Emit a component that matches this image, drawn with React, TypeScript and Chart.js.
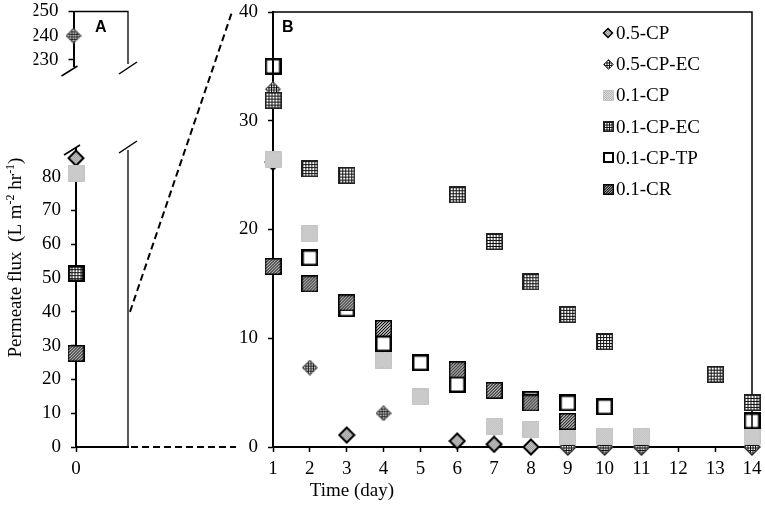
import React, { useEffect, useRef } from 'react';
import Chart from 'chart.js/auto';

const W = 765;
const H = 507;
const serif = "'Times New Roman', 'Liberation Serif', serif";
const sans = "Arial, 'Liberation Sans', sans-serif";

// series, in legend order (later series are drawn on top)
const seriesNames = ['0.5-CP', '0.5-CP-EC', '0.1-CP', '0.1-CP-EC', '0.1-CP-TP', '0.1-CR'];
const markerKinds = ['diamondGray', 'diamondCross', 'squareDots', 'squareGrid', 'squareOpen', 'squareDiag'];

// panel A: initial flux (day 0)
const initialFlux = [85.5, 240, 81, 51.3, 51.3, 27.7];
const lowerTicks = [0, 10, 20, 30, 40, 50, 60, 70, 80];
const upperTicks = [230, 240, 250];

// panel B: flux over days 1-14
const days = [1, 2, 3, 4, 5, 6, 7, 8, 9, 10, 11, 12, 13, 14];
const cp05 = [26.2, null, 1.1, null, null, 0.55, 0.25, 0, 0, 0, 0, null, null, 0];
const cp05ec = [32.9, 7.3, null, 3.1, null, null, null, null, 0, 0, 0, null, null, 0];
const cp01 = [26.4, 19.6, null, 8.0, 4.6, null, 1.9, 1.6, 1.0, 1.0, 1.0, null, null, 1.0];
const cp01ec = [31.9, 25.6, 25.0, null, null, 23.2, 18.9, 15.2, 12.2, 9.7, null, null, 6.7, 4.1];
const cp01tp = [35.0, 17.4, 12.7, 9.5, 7.75, 5.75, null, 4.4, 4.05, 3.7, null, null, null, 2.4];
const cr01 = [16.6, 15.0, 13.25, 10.9, null, 7.1, 5.2, 4.05, 2.35, null, null, null, null, null];
const seriesB = [cp05, cp05ec, cp01, cp01ec, cp01tp, cr01];
const dayTicks = days;
const fluxTicks = [0, 10, 20, 30, 40];

function makeMarker(kind: string, size: number): HTMLCanvasElement {
  const c = document.createElement('canvas');
  c.width = size;
  c.height = size;
  const g = c.getContext('2d')!;
  const h = size / 2;
  const diamond = (inset: number) => {
    g.beginPath();
    g.moveTo(h, inset);
    g.lineTo(size - inset, h);
    g.lineTo(h, size - inset);
    g.lineTo(inset, h);
    g.closePath();
  };
  const square = (inset: number) => {
    g.beginPath();
    g.rect(inset, inset, size - 2 * inset, size - 2 * inset);
  };
  const dots = (c1: string, c2: string) => {
    for (let y = 0; y < size; y++) {
      for (let x = 0; x < size; x++) {
        g.fillStyle = (x + y) % 2 ? c1 : c2;
        g.fillRect(x, y, 1, 1);
      }
    }
  };
  const grid = (step: number, color: string) => {
    g.strokeStyle = color;
    g.lineWidth = 1;
    g.beginPath();
    for (let p = 1.5; p < size; p += step) {
      g.moveTo(p, 0);
      g.lineTo(p, size);
      g.moveTo(0, p);
      g.lineTo(size, p);
    }
    g.stroke();
  };
  const big = size > 13;

  if (kind === 'diamondGray') {
    diamond(1.5);
    g.save();
    g.clip();
    dots('#9a9a9a', '#c6c6c6');
    g.restore();
    diamond(1.5);
    g.strokeStyle = '#000';
    g.lineWidth = big ? 2 : 1.5;
    g.stroke();
  } else if (kind === 'diamondCross') {
    diamond(0.5);
    g.save();
    g.clip();
    g.fillStyle = '#fff';
    g.fillRect(0, 0, size, size);
    grid(2.5, '#111');
    g.restore();
    diamond(0.5);
    g.strokeStyle = '#444';
    g.lineWidth = 1;
    g.stroke();
  } else if (kind === 'squareDots') {
    square(0.5);
    g.save();
    g.clip();
    dots('#b8b8b8', '#dcdcdc');
    g.restore();
    square(0.5);
    g.strokeStyle = '#c4c4c4';
    g.lineWidth = 1;
    g.stroke();
  } else if (kind === 'squareGrid') {
    g.fillStyle = '#fff';
    g.fillRect(0, 0, size, size);
    grid(big ? 3 : 2.5, '#111');
    square(0.75);
    g.strokeStyle = '#222';
    g.lineWidth = 1.5;
    g.stroke();
  } else if (kind === 'squareOpen') {
    square(big ? 1.25 : 1);
    g.strokeStyle = '#000';
    g.lineWidth = big ? 2.5 : 2;
    g.stroke();
  } else if (kind === 'squareDiag') {
    g.fillStyle = '#fff';
    g.fillRect(0, 0, size, size);
    g.strokeStyle = '#000';
    g.lineWidth = 1.1;
    g.beginPath();
    for (let k = -size; k < size * 2; k += big ? 3 : 2.5) {
      g.moveTo(k, size);
      g.lineTo(k + size, 0);
    }
    g.stroke();
    square(0.75);
    g.lineWidth = 1.5;
    g.stroke();
  }
  return c;
}

const bigSize: Record<string, number> = {
  diamondGray: 18, diamondCross: 16, squareDots: 17, squareGrid: 17, squareOpen: 17, squareDiag: 17,
};
const smallSize: Record<string, number> = {
  diamondGray: 12, diamondCross: 11, squareDots: 11, squareGrid: 11, squareOpen: 11, squareDiag: 11,
};

function drawRich(ctx: CanvasRenderingContext2D, parts: [string, boolean][], size: number) {
  const fontOf = (sup: boolean) => `${sup ? Math.round(size * 0.65) : size}px ${serif}`;
  let total = 0;
  const widths = parts.map(([t, sup]) => {
    ctx.font = fontOf(sup);
    const w = ctx.measureText(t).width;
    total += w;
    return w;
  });
  let x = -total / 2;
  parts.forEach(([t, sup], i) => {
    ctx.font = fontOf(sup);
    ctx.fillText(t, x, sup ? -size * 0.38 : 0);
    x += widths[i];
  });
}

const fixedY = (w: number) => (s: any) => {
  s.width = w;
  s.paddingTop = 0;
  s.paddingBottom = 0;
};
const fixedX = (h: number) => (s: any) => {
  s.height = h;
  s.paddingLeft = 0;
  s.paddingRight = 0;
};
const setTicks = (vals: number[]) => (s: any) => {
  s.ticks = vals.map((v) => ({ value: v }));
};

const yAxis = (min: number, max: number, ticks: number[]) => ({
  type: 'linear' as const,
  min,
  max,
  afterBuildTicks: setTicks(ticks),
  afterFit: fixedY(40),
  grid: { drawOnChartArea: false, tickLength: 5, tickWidth: 1.5, tickColor: '#000' },
  border: { color: '#000', width: 2 },
  ticks: { color: '#000', font: { family: serif, size: 19 }, padding: 10 },
});

const xAxis = (min: number, max: number, ticks: number[], display: boolean) => ({
  type: 'linear' as const,
  display,
  min,
  max,
  afterBuildTicks: setTicks(ticks),
  afterFit: fixedX(display ? 40 : 0),
  grid: { drawOnChartArea: false, tickLength: 5, tickWidth: 1.5, tickColor: '#000' },
  border: { color: '#000', width: 2 },
  ticks: { color: '#000', font: { family: serif, size: 19 }, padding: 6, maxRotation: 0, autoSkip: false },
});

const breakMark = (ctx: CanvasRenderingContext2D, x: number, y: number, left: boolean) => {
  ctx.beginPath();
  if (left) {
    ctx.moveTo(x - 12, y + 6);
    ctx.lineTo(x + 4, y - 4);
  } else {
    ctx.moveTo(x - 9, y + 6);
    ctx.lineTo(x + 9, y - 6);
  }
  ctx.stroke();
};

export default function App() {
  const upperRef = useRef<HTMLCanvasElement>(null);
  const lowerRef = useRef<HTMLCanvasElement>(null);
  const mainRef = useRef<HTMLCanvasElement>(null);

  useEffect(() => {
    if (!upperRef.current || !lowerRef.current || !mainRef.current) return;
    const big = markerKinds.map((k) => makeMarker(k, bigSize[k]));
    const small = markerKinds.map((k) => makeMarker(k, smallSize[k]));

    const common = {
      animation: false as const,
      responsive: false,
      events: [] as any[],
      plugins: { legend: { display: false }, tooltip: { enabled: false } },
    };

    const panelAData = (min: number, max: number) =>
      seriesNames.map((name, i) => ({
        label: name,
        data: initialFlux[i] >= min && initialFlux[i] <= max ? [{ x: 0, y: initialFlux[i] }] : [],
        pointStyle: big[i],
        pointRadius: 8,
        order: seriesNames.length - i,
        clip: false as const,
        showLine: false,
      }));

    const upperMin = 227.5;
    const upperMax = 250;
    const lowerMax = 88.5;

    const upperPlugin = {
      id: 'upperA',
      beforeDatasetsDraw(chart: any) {
        const { ctx, chartArea: a } = chart;
        ctx.save();
        ctx.strokeStyle = '#000';
        ctx.lineWidth = 1.3;
        ctx.beginPath();
        ctx.moveTo(a.left, a.top);
        ctx.lineTo(a.right, a.top);
        ctx.lineTo(a.right, a.bottom - 2);
        ctx.stroke();
        ctx.restore();
      },
      afterDraw(chart: any) {
        const { ctx, chartArea: a } = chart;
        ctx.save();
        ctx.strokeStyle = '#000';
        ctx.lineWidth = 1.5;
        breakMark(ctx, a.left, a.bottom + 4, true);
        breakMark(ctx, a.right, a.bottom + 2, false);
        ctx.fillStyle = '#000';
        ctx.font = `bold 16px ${sans}`;
        ctx.textBaseline = 'alphabetic';
        ctx.fillText('A', a.left + 21.5, a.top + 20.5);
        ctx.restore();
      },
    };

    const lowerPlugin = {
      id: 'lowerA',
      beforeDatasetsDraw(chart: any) {
        const { ctx, chartArea: a } = chart;
        ctx.save();
        ctx.strokeStyle = '#000';
        ctx.lineWidth = 1.3;
        ctx.beginPath();
        ctx.moveTo(a.right, a.bottom);
        ctx.lineTo(a.right, a.top + 2);
        ctx.stroke();
        ctx.restore();
      },
      afterDraw(chart: any) {
        const { ctx, chartArea: a } = chart;
        ctx.save();
        ctx.strokeStyle = '#000';
        ctx.lineWidth = 1.5;
        breakMark(ctx, a.left, a.top + 1, true);
        breakMark(ctx, a.right, a.top - 1, false);
        ctx.fillStyle = '#000';
        ctx.translate(21, 257.5);
        ctx.rotate(-Math.PI / 2);
        ctx.textBaseline = 'alphabetic';
        drawRich(ctx, [['Permeate flux  (L m', false], ['-2', true], [' hr', false], ['-1', true], [')', false]], 19);
        ctx.restore();
      },
    };

    const upperChart = new Chart(upperRef.current, {
      type: 'scatter',
      data: { datasets: panelAData(upperMin, upperMax) as any },
      options: {
        ...common,
        layout: { padding: { left: 33.5, right: 637, top: 11.5, bottom: 441 } },
        scales: {
          x: xAxis(0, 1, [0], false),
          y: yAxis(upperMin, upperMax, upperTicks),
        },
      } as any,
      plugins: [upperPlugin],
    });

    const lowerChart = new Chart(lowerRef.current, {
      type: 'scatter',
      data: { datasets: panelAData(0, lowerMax) as any },
      options: {
        ...common,
        layout: { padding: { left: 36, right: 637, top: 148, bottom: 20 } },
        scales: {
          x: xAxis(0, 1, [0], true),
          y: yAxis(0, lowerMax, lowerTicks),
        },
      } as any,
      plugins: [lowerPlugin],
    });

    const zoomTop = fluxTicks[fluxTicks.length - 1];

    const mainPlugin = {
      id: 'panelB',
      beforeDatasetsDraw(chart: any) {
        const { ctx, chartArea: a } = chart;
        ctx.save();
        ctx.strokeStyle = '#000';
        ctx.lineWidth = 1.5;
        ctx.beginPath();
        ctx.moveTo(a.left, a.top);
        ctx.lineTo(a.right, a.top);
        ctx.lineTo(a.right, a.bottom);
        ctx.stroke();
        ctx.restore();
      },
      afterDraw(chart: any) {
        const { ctx, chartArea: a, scales } = chart;
        ctx.save();
        // zoom connectors from panel A
        const la = lowerChart.chartArea;
        const ly = lowerChart.scales.y;
        ctx.strokeStyle = '#000';
        ctx.lineWidth = 2;
        ctx.setLineDash([7, 4]);
        ctx.beginPath();
        ctx.moveTo(la.right + 2, ly.getPixelForValue(zoomTop));
        ctx.lineTo(a.left - 41, scales.y.getPixelForValue(zoomTop));
        ctx.moveTo(la.right + 3, ly.getPixelForValue(0));
        ctx.lineTo(a.left - 37, scales.y.getPixelForValue(0));
        ctx.stroke();
        ctx.setLineDash([]);

        ctx.fillStyle = '#000';
        ctx.font = `bold 16px ${sans}`;
        ctx.textBaseline = 'alphabetic';
        ctx.fillText('B', a.left + 9, a.top + 20);

        // legend
        ctx.font = `19px ${serif}`;
        ctx.textBaseline = 'middle';
        ctx.textAlign = 'left';
        seriesNames.forEach((name, i) => {
          const y = a.top + 21 + i * 31.2;
          const m = small[i];
          const mx = a.right - 144;
          ctx.drawImage(m, Math.round(mx - m.width / 2), Math.round(y - m.height / 2));
          ctx.fillText(name, mx + 8, y + 1);
        });

        // x title
        ctx.textAlign = 'center';
        ctx.textBaseline = 'alphabetic';
        ctx.fillText('Time (day)', a.left + 79, 496);
        ctx.restore();
      },
    };

    const mainChart = new Chart(mainRef.current, {
      type: 'scatter',
      data: {
        datasets: seriesNames.map((name, i) => ({
          label: name,
          data: days
            .map((d, j) => (seriesB[i][j] == null ? null : { x: d, y: seriesB[i][j] as number }))
            .filter((p) => p !== null),
          pointStyle: big[i],
          pointRadius: 8,
          order: seriesNames.length - i,
          clip: false as const,
          showLine: false,
        })) as any,
      },
      options: {
        ...common,
        layout: { padding: { left: 233, right: 13, top: 12, bottom: 20 } },
        scales: {
          x: xAxis(days[0], days[days.length - 1], dayTicks, true),
          y: yAxis(0, zoomTop, fluxTicks),
        },
      } as any,
      plugins: [mainPlugin],
    });

    return () => {
      mainChart.destroy();
      lowerChart.destroy();
      upperChart.destroy();
    };
  }, []);

  const canvasStyle: React.CSSProperties = { position: 'absolute', left: 0, top: 0, width: W, height: H };
  return (
    <div style={{ position: 'absolute', left: 0, top: 0, width: W, height: H, background: '#fff', overflow: 'hidden' }}>
      <canvas ref={upperRef} width={W} height={H} style={canvasStyle} />
      <canvas ref={lowerRef} width={W} height={H} style={canvasStyle} />
      <canvas ref={mainRef} width={W} height={H} style={canvasStyle} />
    </div>
  );
}
